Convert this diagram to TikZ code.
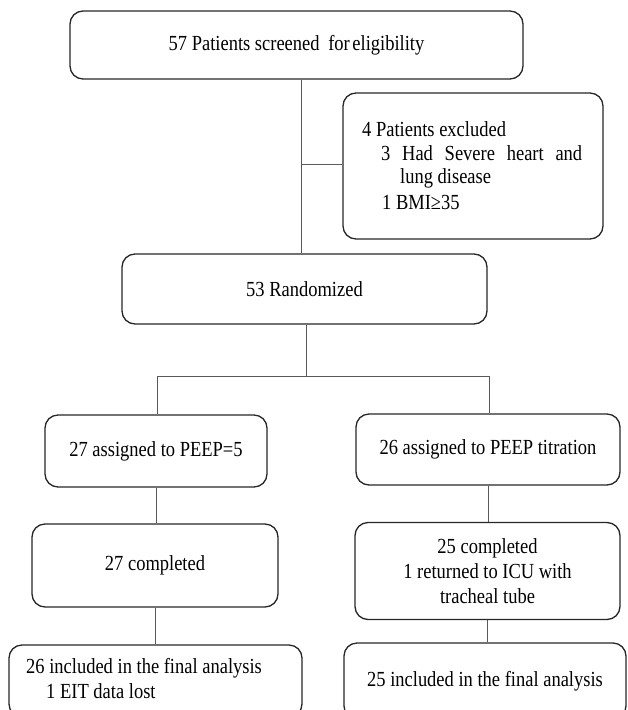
\documentclass[tikz,border=0pt]{standalone}
\usepackage{fontspec}
\setmainfont{Liberation Serif}[FakeStretch=0.86]
\begin{document}
\begin{tikzpicture}[x=1pt,y=-1pt,
  box/.style={draw=black!85, line width=1.3pt, rounded corners=13pt, inner sep=0pt, align=center, font=\fontsize{21.5}{25}\selectfont},
  link/.style={draw=black!65, line width=0.9pt},
  txt/.style={anchor=base west, inner sep=0pt, font=\fontsize{21.5}{25}\selectfont}]
\useasboundingbox (0,0) rectangle (627,710);
\clip (0,0) rectangle (627,710);
% boxes
\node[box, minimum width=453pt, minimum height=68pt] (screen) at (296.5,45) {57 Patients screened\hspace{4pt} for\hspace{-2pt} eligibility};
\node[box, minimum width=260pt, minimum height=146pt] (excl) at (473,166) {};
\node[box, minimum width=365pt, minimum height=70pt] (rand) at (304.5,289) {53 Randomized};
\node[box, minimum width=222pt, minimum height=72pt] (a1) at (156,451) {27 assigned to PEEP=5};
\node[box, minimum width=264pt, minimum height=71pt] (b1) at (488,449.5) {26 assigned to PEEP titration};
\node[box, minimum width=246pt, minimum height=83pt] (a2) at (155,565.5) {27 completed};
\node[box, minimum width=265pt, minimum height=97pt] (b2) at (487.5,571) {25 completed\\1 returned to ICU with\\tracheal tube};
\node[box, minimum width=293pt, minimum height=72pt] (a3) at (155.5,681) {};
\node[box, minimum width=282pt, minimum height=76pt] (b3) at (485,681) {25 included in the final analysis};
% texts of the exclusion box
\node[txt] (e1) at (362,136) {4 Patients excluded};
\node[txt] (e2) at (381,160) {\makebox[201pt][s]{3 Had Severe heart and}};
\node[txt] (e3) at (400,183) {lung disease};
\node[txt] (e4) at (382,209) {1 BMI≥35};
% texts of the lower left box
\node[txt] (f1) at (26,673) {26 included in the final analysis};
\node[txt] (f2) at (46,698) {1 EIT data lost};
% connectors
\coordinate (j1) at (301,164);
\coordinate (j2) at (306,376);
\coordinate (ja) at (157,376);
\coordinate (jb) at (489,376);
\draw[link] (screen.south -| j1) -- (rand.north -| j1);
\draw[link] (j1) -- (excl.west |- j1);
\draw[link] (rand.south -| j2) -- (j2);
\draw[link] (ja) -- (jb);
\draw[link] (ja) -- (ja |- a1.north);
\draw[link] (jb) -- (jb |- b1.north);
\draw[link] (a1.south) -- (a1.south |- a2.north);
\draw[link] (a2.south) -- (a2.south |- a3.north);
\draw[link] (b1.south) -- (b1.south |- b2.north);
\draw[link] (b2.south) -- (b2.south |- b3.north);
\end{tikzpicture}
\end{document}
